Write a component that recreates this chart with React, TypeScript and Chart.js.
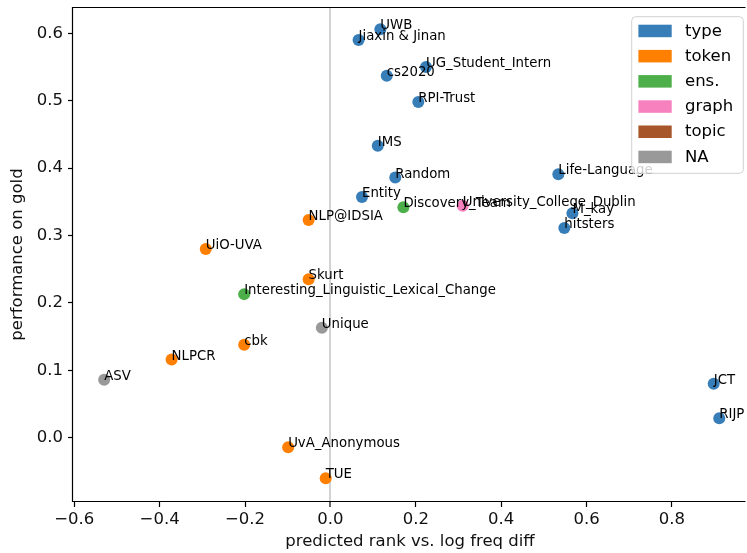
import React, { useEffect, useRef } from 'react';
import { Chart, registerables } from 'chart.js';

Chart.register(...registerables);

// ---- data ----
const groupNames = ['type', 'token', 'ens.', 'graph', 'topic', 'NA'];
const groupColors = ['#377eb8', '#ff7f00', '#4daf4a', '#f781bf', '#a65628', '#999999'];

const typeTeams = ['UWB', 'Jiaxin & Jinan', 'UG_Student_Intern', 'cs2020', 'RPI-Trust', 'IMS', 'Random', 'Entity', 'Life-Language', 'M_kay', 'hitsters', 'JCT', 'RIJP'];
const typeX = [0.117, 0.066, 0.224, 0.132, 0.206, 0.111, 0.152, 0.074, 0.534, 0.567, 0.548, 0.898, 0.911];
const typeY = [0.606, 0.590, 0.550, 0.537, 0.498, 0.433, 0.386, 0.357, 0.391, 0.333, 0.311, 0.080, 0.029];

const tokenTeams = ['NLP@IDSIA', 'UiO-UVA', 'Skurt', 'cbk', 'NLPCR', 'UvA_Anonymous', 'TUE'];
const tokenX = [-0.051, -0.292, -0.051, -0.202, -0.372, -0.099, -0.011];
const tokenY = [0.323, 0.280, 0.235, 0.138, 0.116, -0.014, -0.060];

const ensTeams = ['Discovery_Team', 'Interesting_Linguistic_Lexical_Change'];
const ensX = [0.171, -0.202];
const ensY = [0.342, 0.213];

const graphTeams = ['University_College_Dublin'];
const graphX = [0.310];
const graphY = [0.344];

const topicTeams: string[] = [];
const topicX: number[] = [];
const topicY: number[] = [];

const naTeams = ['Unique', 'ASV'];
const naX = [-0.020, -0.530];
const naY = [0.163, 0.086];

const xTicks = [-0.6, -0.4, -0.2, 0, 0.2, 0.4, 0.6, 0.8];
const yTicks = [0, 0.1, 0.2, 0.3, 0.4, 0.5, 0.6];
const xRange = [-0.603, 0.976];
const yRange = [-0.0954, 0.639];

const xTitle = 'predicted rank vs. log freq diff';
const yTitle = 'performance on gold';

const groups = [
  [typeTeams, typeX, typeY],
  [tokenTeams, tokenX, tokenY],
  [ensTeams, ensX, ensY],
  [graphTeams, graphX, graphY],
  [topicTeams, topicX, topicY],
  [naTeams, naX, naY],
] as [string[], number[], number[]][];

const FONT = "'DejaVu Sans', sans-serif";
const fmt = (v: number) => (v < 0 ? '\u2212' + Math.abs(v).toFixed(1) : v.toFixed(1));

const overlayPlugin = {
  id: 'overlay',
  afterDatasetsDraw(chart: any) {
    const ctx = chart.ctx;
    const area = chart.chartArea;
    ctx.save();
    // annotations
    ctx.font = `13.3px ${FONT}`;
    ctx.fillStyle = '#000';
    ctx.textAlign = 'left';
    ctx.textBaseline = 'alphabetic';
    chart.data.datasets.forEach((ds: any, i: number) => {
      const meta = chart.getDatasetMeta(i);
      meta.data.forEach((pt: any, j: number) => {
        ctx.fillText(ds.names[j], pt.x, pt.y);
      });
    });
    // frame: left spine, top and bottom lines (right spine lies beyond the visible edge)
    const L = Math.round(area.left) - 0.5;
    const T = Math.round(area.top) + 0.5;
    const B = Math.round(area.bottom) - 0.5;
    const R = area.right - 1.5;
    ctx.strokeStyle = '#000';
    ctx.lineWidth = 1.2;
    ctx.beginPath();
    ctx.moveTo(R, T);
    ctx.lineTo(L, T);
    ctx.lineTo(L, B);
    ctx.lineTo(R, B);
    ctx.stroke();
    // legend
    const w = 111.6;
    const h = 156.6;
    const rx = area.right - 3.7 - w;
    const ry = area.top + 9.7;
    const r = 4;
    ctx.beginPath();
    ctx.moveTo(rx + r, ry);
    ctx.lineTo(rx + w - r, ry);
    ctx.quadraticCurveTo(rx + w, ry, rx + w, ry + r);
    ctx.lineTo(rx + w, ry + h - r);
    ctx.quadraticCurveTo(rx + w, ry + h, rx + w - r, ry + h);
    ctx.lineTo(rx + r, ry + h);
    ctx.quadraticCurveTo(rx, ry + h, rx, ry + h - r);
    ctx.lineTo(rx, ry + r);
    ctx.quadraticCurveTo(rx, ry, rx + r, ry);
    ctx.closePath();
    ctx.fillStyle = 'rgba(255,255,255,0.8)';
    ctx.fill();
    ctx.strokeStyle = '#d0d0d0';
    ctx.lineWidth = 1;
    ctx.stroke();
    ctx.font = `16.5px ${FONT}`;
    chart.data.datasets.forEach((ds: any, i: number) => {
      const cy = ry + 14 + i * 25.2;
      ctx.fillStyle = ds.backgroundColor;
      ctx.fillRect(rx + 6.7, cy - 6, 33.3, 12.5);
      ctx.fillStyle = '#000';
      ctx.fillText(ds.label, rx + 53.3, cy + 4.8);
    });
    ctx.restore();
  },
};

export default function App() {
  const ref = useRef<HTMLCanvasElement>(null);
  useEffect(() => {
    if (!ref.current) return;
    const chart = new Chart(ref.current, {
      type: 'scatter',
      data: {
        datasets: groups.map(([names, xs, ys], i) => ({
          label: groupNames[i],
          names,
          data: xs.map((x, j) => ({ x, y: ys[j] })),
          backgroundColor: groupColors[i],
          borderWidth: 0,
          pointRadius: 6,
          pointHoverRadius: 6,
        })) as any,
      },
      options: {
        responsive: false,
        animation: false,
        events: [],
        layout: { autoPadding: false, padding: { left: 0, top: 7, right: 0, bottom: 0 } },
        plugins: { legend: { display: false }, tooltip: { enabled: false } },
        scales: {
          x: {
            type: 'linear',
            min: xRange[0],
            max: xRange[1],
            afterBuildTicks: (s: any) => { s.ticks = xTicks.map((v) => ({ value: v })); },
            afterFit: (s: any) => { s.height = 51; s.paddingLeft = 0; s.paddingRight = 0; },
            border: { display: false },
            grid: {
              color: (c: any) => (c.tick && c.tick.value === 0 ? '#d3d3d3' : 'rgba(0,0,0,0)'),
              lineWidth: (c: any) => (c.tick && c.tick.value === 0 ? 2 : 1),
              tickColor: '#000',
              tickWidth: 1.2,
              tickLength: 5,
            },
            ticks: {
              font: { family: FONT, size: 16.5 },
              color: '#111',
              padding: 3,
              maxRotation: 0,
              autoSkip: false,
              callback: (v: any) => fmt(Number(v)),
            },
            title: { display: true, text: xTitle, color: '#111', font: { family: FONT, size: 16.5 }, padding: { top: 0, bottom: 1 } },
          },
          y: {
            type: 'linear',
            min: yRange[0],
            max: yRange[1],
            afterBuildTicks: (s: any) => { s.ticks = yTicks.map((v) => ({ value: v })); },
            afterFit: (s: any) => { s.width = 73; s.paddingTop = 0; s.paddingBottom = 0; },
            border: { display: false },
            grid: {
              color: 'rgba(0,0,0,0)',
              tickColor: '#000',
              tickWidth: 1.2,
              tickLength: 5,
            },
            ticks: {
              font: { family: FONT, size: 16.5 },
              color: '#111',
              padding: 5,
              autoSkip: false,
              callback: (v: any) => fmt(Number(v)),
            },
            title: { display: true, text: yTitle, color: '#111', font: { family: FONT, size: 16.5 }, padding: { top: 8, bottom: 0 } },
          },
        },
      },
      plugins: [overlayPlugin],
    });
    return () => chart.destroy();
  }, []);
  return (
    <div style={{ position: 'absolute', left: 0, top: 0, width: 747, height: 553, overflow: 'hidden', background: '#fff' }}>
      <canvas ref={ref} width={747} height={553} style={{ display: 'block' }} />
    </div>
  );
}
